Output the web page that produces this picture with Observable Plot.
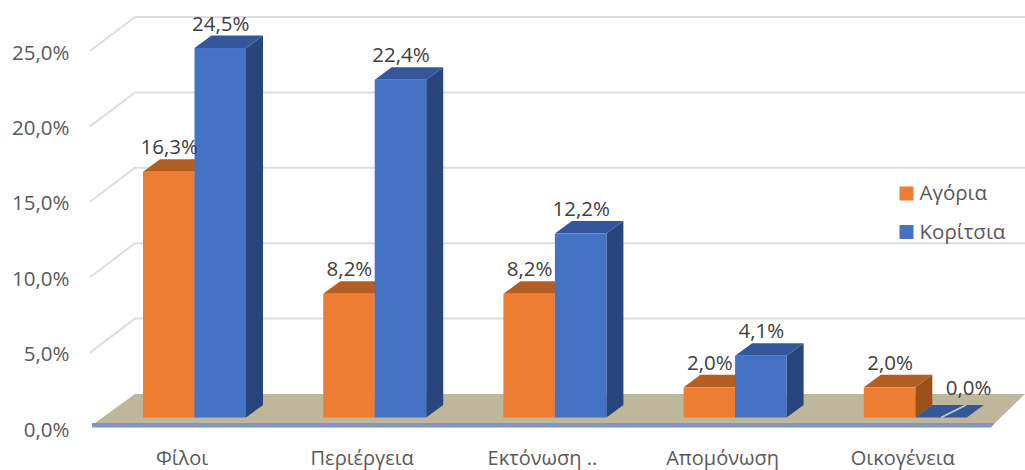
<!DOCTYPE html>
<html>
<head>
<meta charset="utf-8">
<script src="https://cdn.jsdelivr.net/npm/d3@7"></script>
<script src="https://cdn.jsdelivr.net/npm/@observablehq/plot@0.6"></script>
<style>
html,body{margin:0;padding:0;background:#fff;}
svg{display:block;}
</style>
</head>
<body>
<div id="chart"></div>
<script>
const categories = ["Φίλοι", "Περιέργεια", "Εκτόνωση ..", "Απομόνωση", "Οικογένεια"];
const series = ["Αγόρια", "Κορίτσια"];
const boys = [16.3, 8.2, 8.2, 2.0, 2.0];
const girls = [24.5, 22.4, 12.2, 4.1, 0.0];
const yTicks = [0, 5, 10, 15, 20, 25];
const colors = ["#ED7D31", "#4472C4"];
const topColors = {"#ED7D31": "#B35E22", "#4472C4": "#33579A"};
const sideColors = {"#ED7D31": "#995019", "#4472C4": "#28457C"};

const rows = [];
categories.forEach((c, i) => {
  rows.push({category: c, series: series[0], value: boys[i]});
  rows.push({category: c, series: series[1], value: girls[i]});
});
const fmt = d => d.toFixed(1).replace(".", ",") + "%";
const FONT = "'Open Sans', sans-serif";
const depthX = 17, depthY = 12.5;
const NS = "http://www.w3.org/2000/svg";
function el(name, attrs) {
  const n = document.createElementNS(NS, name);
  for (const k in attrs) n.setAttribute(k, attrs[k]);
  return n;
}
function poly(points, fill) {
  return el("polygon", {points: points.map(p => p.join(",")).join(" "), fill});
}

function gridRender(index, scales, values, dims) {
  const g = el("g", {"aria-label": "wall grid"});
  for (const t of yTicks) {
    if (t === 0) continue;
    const y = scales.y(t);
    g.appendChild(el("polyline", {
      points: `90,${y + 10.5} 135,${y - 23.5} ${dims.width},${y - 23.5}`,
      fill: "none", stroke: "#DEDEDE", "stroke-width": 2
    }));
  }
  return g;
}
function floorRender(index, scales, values, dims) {
  const y0 = scales.y(0);
  const g = el("g", {"aria-label": "floor"});
  g.appendChild(poly([[95, y0 + 5.5], [135, y0 - 23.5], [dims.width, y0 - 23.5], [995, y0 + 5.5]], "#BFB79B"));
  g.appendChild(poly([[92, y0 + 5.5], [995, y0 + 5.5], [991, y0 + 10], [92, y0 + 10]], "#8096BF"));
  return g;
}
function barRender(index, scales, values, dims, ctx, next) {
  const g = next(index, scales, values, dims, ctx);
  const first = g.firstChild;
  for (const r of g.querySelectorAll("rect")) {
    const x = +r.getAttribute("x"), y = +r.getAttribute("y");
    const w = +r.getAttribute("width"), h = +(r.getAttribute("height") || 0);
    const f = r.getAttribute("fill");
    const p = first.parentNode;
    p.insertBefore(poly([[x + w, y], [x + w + depthX, y - depthY], [x + w + depthX, y + h - depthY], [x + w, y + h]], sideColors[f]), first);
    p.insertBefore(poly([[x, y], [x + depthX, y - depthY], [x + w + depthX, y - depthY], [x + w, y]], topColors[f]), first);
    if (h < 0.5) {
      p.insertBefore(el("line", {x1: x + w / 2, y1: y, x2: x + w / 2 + 25, y2: y - depthY, stroke: "#C9CCD0", "stroke-width": 1.5}), first);
    }
  }
  return g;
}

const marginLeft = 104.4, marginTop = 40.5;
const frameLeft = 143;
const legendMarks = series.flatMap((s, i) => [
  Plot.dot([s], {facet: "super", frameAnchor: "top-left", dx: 906 - frameLeft, dy: 193 + 38.5 * i - marginTop,
    symbol: "square", r: 7.9, fill: colors[i]}),
  Plot.text([s], {facet: "super", frameAnchor: "top-left", dx: 919 - frameLeft, dy: 193 + 38.5 * i - marginTop,
    text: d => d, textAnchor: "start", lineAnchor: "middle", fontSize: 20.5, fill: "#595959"})
]);

const chart = Plot.plot({
  width: 1025,
  height: 470,
  marginLeft,
  marginRight: 19.6,
  marginTop,
  marginBottom: 52.5,
  style: {fontFamily: FONT, background: "#fff", overflow: "hidden"},
  fx: {domain: categories, paddingInner: 0.4284, paddingOuter: 0.2142, round: false, label: null, axis: null},
  x: {domain: series, padding: 0, round: false, axis: null, label: null},
  y: {domain: [0, 25], axis: null, label: null},
  color: {domain: series, range: colors},
  marks: [
    Plot.dot(yTicks, {facet: "super", frameAnchor: "left", render: gridRender}),
    Plot.dot([0], {facet: "super", frameAnchor: "left", render: floorRender}),
    Plot.axisY({ticks: yTicks, tickSize: 0, tickFormat: fmt, label: null, fontSize: 20.5, fill: "#595959", dx: -65, dy: 12}),
    Plot.axisFx({anchor: "bottom", tickSize: 0, label: null, fontSize: 20, fill: "#595959", dx: -13, dy: 23.5}),
    Plot.barY(rows, {fx: "category", x: "series", y: "value", fill: "series", render: barRender}),
    Plot.text(rows.filter(d => d.value > 0), {fx: "category", x: "series", y: "value", text: d => fmt(d.value), dy: -24.5, fontSize: 20.5, fill: "#404040"}),
    Plot.text(rows.filter(d => d.value === 0), {fx: "category", x: "series", y: "value", text: d => fmt(d.value), dx: 27, dy: -30, fontSize: 20.5, fill: "#404040"}),
    ...legendMarks
  ]
});
document.getElementById("chart").appendChild(chart);
</script>
</body>
</html>
